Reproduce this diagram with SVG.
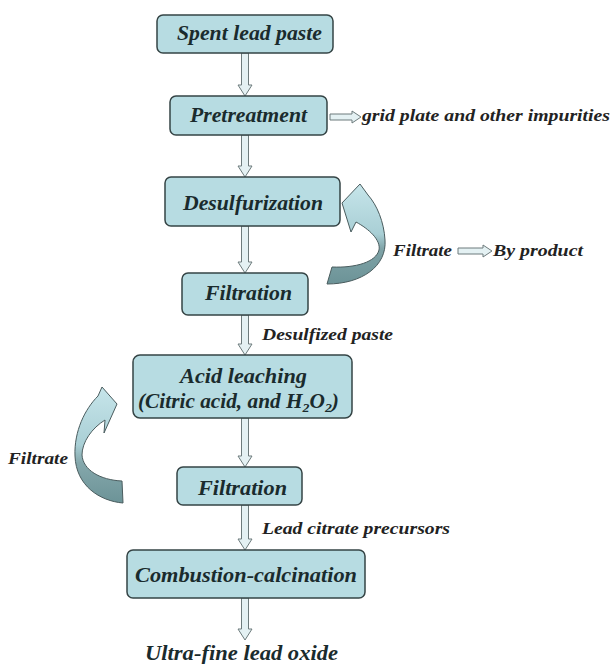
<svg xmlns="http://www.w3.org/2000/svg" width="614" height="664" viewBox="0 0 614 664">
<style>
.box{fill:#b7dce2;stroke:#354445;stroke-width:1.5}
.bt{font-family:"Liberation Serif","Times New Roman",serif;font-weight:bold;font-style:italic;font-size:20px;fill:#1a2b2d}
.st{font-family:"Liberation Serif","Times New Roman",serif;font-weight:bold;font-style:italic;font-size:17px;fill:#222}
.ar{fill:#e4f1f3;stroke:#6d7b7c;stroke-width:1}
.cv{stroke:#4a5c5e;stroke-width:1}
</style>
<defs>
<linearGradient id="gR" x1="0" y1="0" x2="0" y2="1">
<stop offset="0" stop-color="#c6e5ea"/>
<stop offset="0.5" stop-color="#a9cfd5"/>
<stop offset="0.65" stop-color="#7fa3a7"/>
<stop offset="1" stop-color="#6c9397"/>
</linearGradient>
<linearGradient id="gL" x1="0" y1="0" x2="0" y2="1">
<stop offset="0" stop-color="#c6e5ea"/>
<stop offset="0.5" stop-color="#a9cfd5"/>
<stop offset="0.65" stop-color="#85a8ac"/>
<stop offset="1" stop-color="#6c9397"/>
</linearGradient>
</defs>
<rect width="614" height="664" fill="#ffffff"/>
<g id="connectors">
<polygon class="ar" points="241.5,53 248.5,53 248.5,85 252,85 245,96 238,85 241.5,85"/>
<polygon class="ar" points="241.5,135 248.5,135 248.5,166 252,166 245,177 238,166 241.5,166"/>
<polygon class="ar" points="241.5,226 248.5,226 248.5,262 252,262 245,273 238,262 241.5,262"/>
<polygon class="ar" points="241.5,315 248.5,315 248.5,344 252,344 245,355 238,344 241.5,344"/>
<polygon class="ar" points="241.5,418 248.5,418 248.5,456 252,456 245,467 238,456 241.5,456"/>
<polygon class="ar" points="241.5,505 248.5,505 248.5,539 252,539 245,550 238,539 241.5,539"/>
<polygon class="ar" points="241.5,598 248.5,598 248.5,629 252,629 245,640 238,629 241.5,629"/>
<polygon class="ar" points="330,114 352,114 352,111 361,117 352,123 352,120 330,120"/>
<polygon class="ar" points="458,248 483,248 483,245 492,251 483,257 483,254 458,254"/>
<path class="cv" fill="url(#gR)" d="M327,284 C362,284 387,266 385,240 C384,222 377,205 368,195 L360,184 L342,203 L351,232 L356,222 C369,229 381,240 379,250 C376,262 356,268 332,267 Z"/>
<path class="cv" fill="url(#gL)" d="M123,503 C100,501 76,486 75,456 C74,431 85,409 98,396 L102,387 L117,404 L104,433 L105,420 C92,428 82,442 82,455 C83,470 100,480 122,481 Z"/>
</g>
<g id="n-spent">
<rect class="box" x="157" y="15" width="176" height="38" rx="6"/>
<text class="bt" x="177" y="40" textLength="145" lengthAdjust="spacingAndGlyphs">Spent lead paste</text>
</g>
<g id="n-pretreatment">
<rect class="box" x="170" y="96" width="157" height="39" rx="6"/>
<text class="bt" x="190" y="122" textLength="117" lengthAdjust="spacingAndGlyphs">Pretreatment</text>
</g>
<g id="n-desulfurization">
<rect class="box" x="165" y="177" width="175" height="49" rx="6"/>
<text class="bt" x="183" y="210" textLength="140" lengthAdjust="spacingAndGlyphs">Desulfurization</text>
</g>
<g id="n-filtration1">
<rect class="box" x="182" y="273" width="126" height="42" rx="6"/>
<text class="bt" x="205" y="300" textLength="87" lengthAdjust="spacingAndGlyphs">Filtration</text>
</g>
<g id="n-acid">
<rect class="box" x="133" y="355" width="219" height="63" rx="7"/>
<text class="bt" x="180" y="383" textLength="127" lengthAdjust="spacingAndGlyphs">Acid leaching</text>
<text class="bt" x="138" y="408" textLength="201" lengthAdjust="spacingAndGlyphs">(Citric acid, and H<tspan font-size="13" dy="4">2</tspan><tspan dy="-4">O</tspan><tspan font-size="13" dy="4">2</tspan><tspan dy="-4">)</tspan></text>
</g>
<g id="n-filtration2">
<rect class="box" x="177" y="467" width="125" height="38" rx="6"/>
<text class="bt" x="198" y="495" textLength="89" lengthAdjust="spacingAndGlyphs">Filtration</text>
</g>
<g id="n-combustion">
<rect class="box" x="127" y="550" width="238" height="48" rx="6"/>
<text class="bt" x="135" y="582" textLength="222" lengthAdjust="spacingAndGlyphs">Combustion-calcination</text>
</g>
<g id="labels">
<text class="st" x="362" y="121" textLength="248" lengthAdjust="spacingAndGlyphs">grid plate and other impurities</text>
<text class="st" x="393" y="256" textLength="59" lengthAdjust="spacingAndGlyphs">Filtrate</text>
<text class="st" x="493" y="256" textLength="90" lengthAdjust="spacingAndGlyphs">By product</text>
<text class="st" x="262" y="340" textLength="131" lengthAdjust="spacingAndGlyphs">Desulfized paste</text>
<text class="st" x="8" y="464" textLength="60" lengthAdjust="spacingAndGlyphs">Filtrate</text>
<text class="st" x="262" y="534" textLength="188" lengthAdjust="spacingAndGlyphs">Lead citrate precursors</text>
<text class="bt" x="145" y="660" textLength="193" lengthAdjust="spacingAndGlyphs">Ultra-fine lead oxide</text>
</g>
</svg>
